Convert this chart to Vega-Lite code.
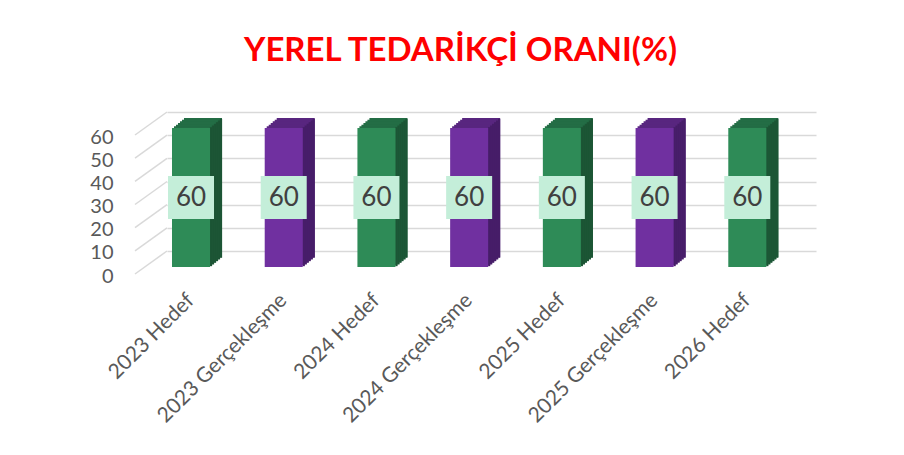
{
  "$schema": "https://vega.github.io/schema/vega-lite/v6.json",
  "autosize": "none",
  "padding": {"left": 167, "top": 112, "right": 88, "bottom": 204},
  "width": 649,
  "height": 139,
  "background": "#ffffff",
  "config": {
    "view": {"stroke": null},
    "axisY": {"labelOverlap": false, "labelBound": false, "labelFlush": false},
    "axisX": {"labelOverlap": false, "labelBound": false}
  },
  "title": {
    "text": "YEREL TEDARİKÇİ ORANI(%)",
    "font": "Lato",
    "fontSize": 33,
    "fontWeight": "bold",
    "color": "#FF0000",
    "anchor": "middle",
    "dx": -31,
    "baseline": "alphabetic",
    "offset": 15
  },
  "datasets": {
    "main": [
      {"kat": "2023 Hedef", "deger": 60},
      {"kat": "2023 Gerçekleşme", "deger": 60},
      {"kat": "2024 Hedef", "deger": 60},
      {"kat": "2024 Gerçekleşme", "deger": 60},
      {"kat": "2025 Hedef", "deger": 60},
      {"kat": "2025 Gerçekleşme", "deger": 60},
      {"kat": "2026 Hedef", "deger": 60}
    ],
    "grid": [{"v": 0}, {"v": 10}, {"v": 20}, {"v": 30}, {"v": 40}, {"v": 50}, {"v": 60}]
  },
  "layer": [
    {
      "data": {"name": "grid"},
      "mark": {"type": "point", "shape": "M0,0L-2,1.4375", "size": 1024, "filled": false, "stroke": "#d9d9d9", "strokeWidth": 1.5, "opacity": 1, "xOffset": -5},
      "encoding": {
        "x": {"datum": "2023 Hedef", "type": "nominal", "bandPosition": 0},
        "y": {
          "field": "v", "type": "quantitative",
          "scale": {"domain": [0, 60], "nice": false},
          "axis": {"title": null, "values": [0, 10, 20, 30, 40, 50, 60], "grid": true, "gridColor": "#d9d9d9", "gridWidth": 1.5, "ticks": false, "domain": false, "labelPadding": 54, "labelOffset": 25, "labelFont": "Lato", "labelFontSize": 20, "labelColor": "#595959", "labelOverlap": false, "labelBound": false}
        }
      }
    },
    {
      "data": {"name": "main"},
      "encoding": {
        "x": {
          "field": "kat", "type": "nominal", "sort": null,
          "scale": {"paddingInner": 0.59, "paddingOuter": 0.295, "align": 0.0914},
          "axis": {"title": null, "labelAngle": -45, "labelAlign": "right", "labelBaseline": "middle", "labelPadding": 46, "domain": false, "ticks": false, "labelFont": "Lato", "labelFontSize": 21, "labelColor": "#595959", "labelOverlap": false, "labelBound": false}
        },
        "y": {
          "field": "deger", "type": "quantitative",
          "scale": {"domain": [0, 60], "nice": false},
          "axis": {"title": null, "values": [0, 10, 20, 30, 40, 50, 60], "grid": true, "gridColor": "#d9d9d9", "gridWidth": 1.5, "ticks": false, "domain": false, "labelPadding": 54, "labelOffset": 25, "labelFont": "Lato", "labelFontSize": 20, "labelColor": "#595959", "labelOverlap": false, "labelBound": false}
        }
      },
      "layer": [
        {"mark": {"type": "bar", "xOffset": 12, "yOffset": 6}, "encoding": {"color": {"condition": {"test": "indexof(datum.kat, 'Hedef') >= 0", "value": "#236d45"}, "value": "#58267f"}}},
        {"mark": {"type": "bar", "xOffset": 10, "yOffset": 7.67}, "encoding": {"color": {"condition": {"test": "indexof(datum.kat, 'Hedef') >= 0", "value": "#236d45"}, "value": "#58267f"}}},
        {"mark": {"type": "bar", "xOffset": 8, "yOffset": 9.33}, "encoding": {"color": {"condition": {"test": "indexof(datum.kat, 'Hedef') >= 0", "value": "#236d45"}, "value": "#58267f"}}},
        {"mark": {"type": "bar", "xOffset": 6, "yOffset": 11}, "encoding": {"color": {"condition": {"test": "indexof(datum.kat, 'Hedef') >= 0", "value": "#236d45"}, "value": "#58267f"}}},
        {"mark": {"type": "bar", "xOffset": 4, "yOffset": 12.67}, "encoding": {"color": {"condition": {"test": "indexof(datum.kat, 'Hedef') >= 0", "value": "#236d45"}, "value": "#58267f"}}},
        {"mark": {"type": "bar", "xOffset": 2, "yOffset": 14.33}, "encoding": {"color": {"condition": {"test": "indexof(datum.kat, 'Hedef') >= 0", "value": "#236d45"}, "value": "#58267f"}}},
        {"mark": {"type": "bar", "width": 2.2, "xOffset": 20, "yOffset": 15.17}, "encoding": {"color": {"condition": {"test": "indexof(datum.kat, 'Hedef') >= 0", "value": "#1c5535"}, "value": "#461d68"}}},
        {"mark": {"type": "bar", "width": 2.2, "xOffset": 22, "yOffset": 13.5}, "encoding": {"color": {"condition": {"test": "indexof(datum.kat, 'Hedef') >= 0", "value": "#1c5535"}, "value": "#461d68"}}},
        {"mark": {"type": "bar", "width": 2.2, "xOffset": 24, "yOffset": 11.83}, "encoding": {"color": {"condition": {"test": "indexof(datum.kat, 'Hedef') >= 0", "value": "#1c5535"}, "value": "#461d68"}}},
        {"mark": {"type": "bar", "width": 2.2, "xOffset": 26, "yOffset": 10.17}, "encoding": {"color": {"condition": {"test": "indexof(datum.kat, 'Hedef') >= 0", "value": "#1c5535"}, "value": "#461d68"}}},
        {"mark": {"type": "bar", "width": 2.2, "xOffset": 28, "yOffset": 8.5}, "encoding": {"color": {"condition": {"test": "indexof(datum.kat, 'Hedef') >= 0", "value": "#1c5535"}, "value": "#461d68"}}},
        {"mark": {"type": "bar", "width": 2.2, "xOffset": 30, "yOffset": 6.83}, "encoding": {"color": {"condition": {"test": "indexof(datum.kat, 'Hedef') >= 0", "value": "#1c5535"}, "value": "#461d68"}}},
        {"mark": {"type": "bar", "yOffset": 16}, "encoding": {"color": {"condition": {"test": "indexof(datum.kat, 'Hedef') >= 0", "value": "#2e8b57"}, "value": "#7030a0"}}},
        {
          "transform": [{"calculate": "datum.deger / 2", "as": "orta"}],
          "mark": {"type": "point", "shape": "M-1.07,-1H1.07V1H-1.07Z", "size": 1849, "filled": true, "color": "#c4eed9", "opacity": 1, "yOffset": 16},
          "encoding": {"y": {"field": "orta", "type": "quantitative"}}
        },
        {
          "transform": [{"calculate": "datum.deger / 2", "as": "orta"}],
          "mark": {"type": "text", "font": "Lato", "fontSize": 26, "color": "#404040", "baseline": "middle", "align": "center", "yOffset": 16},
          "encoding": {"y": {"field": "orta", "type": "quantitative"}, "text": {"field": "deger", "type": "quantitative"}}
        }
      ]
    }
  ]
}
